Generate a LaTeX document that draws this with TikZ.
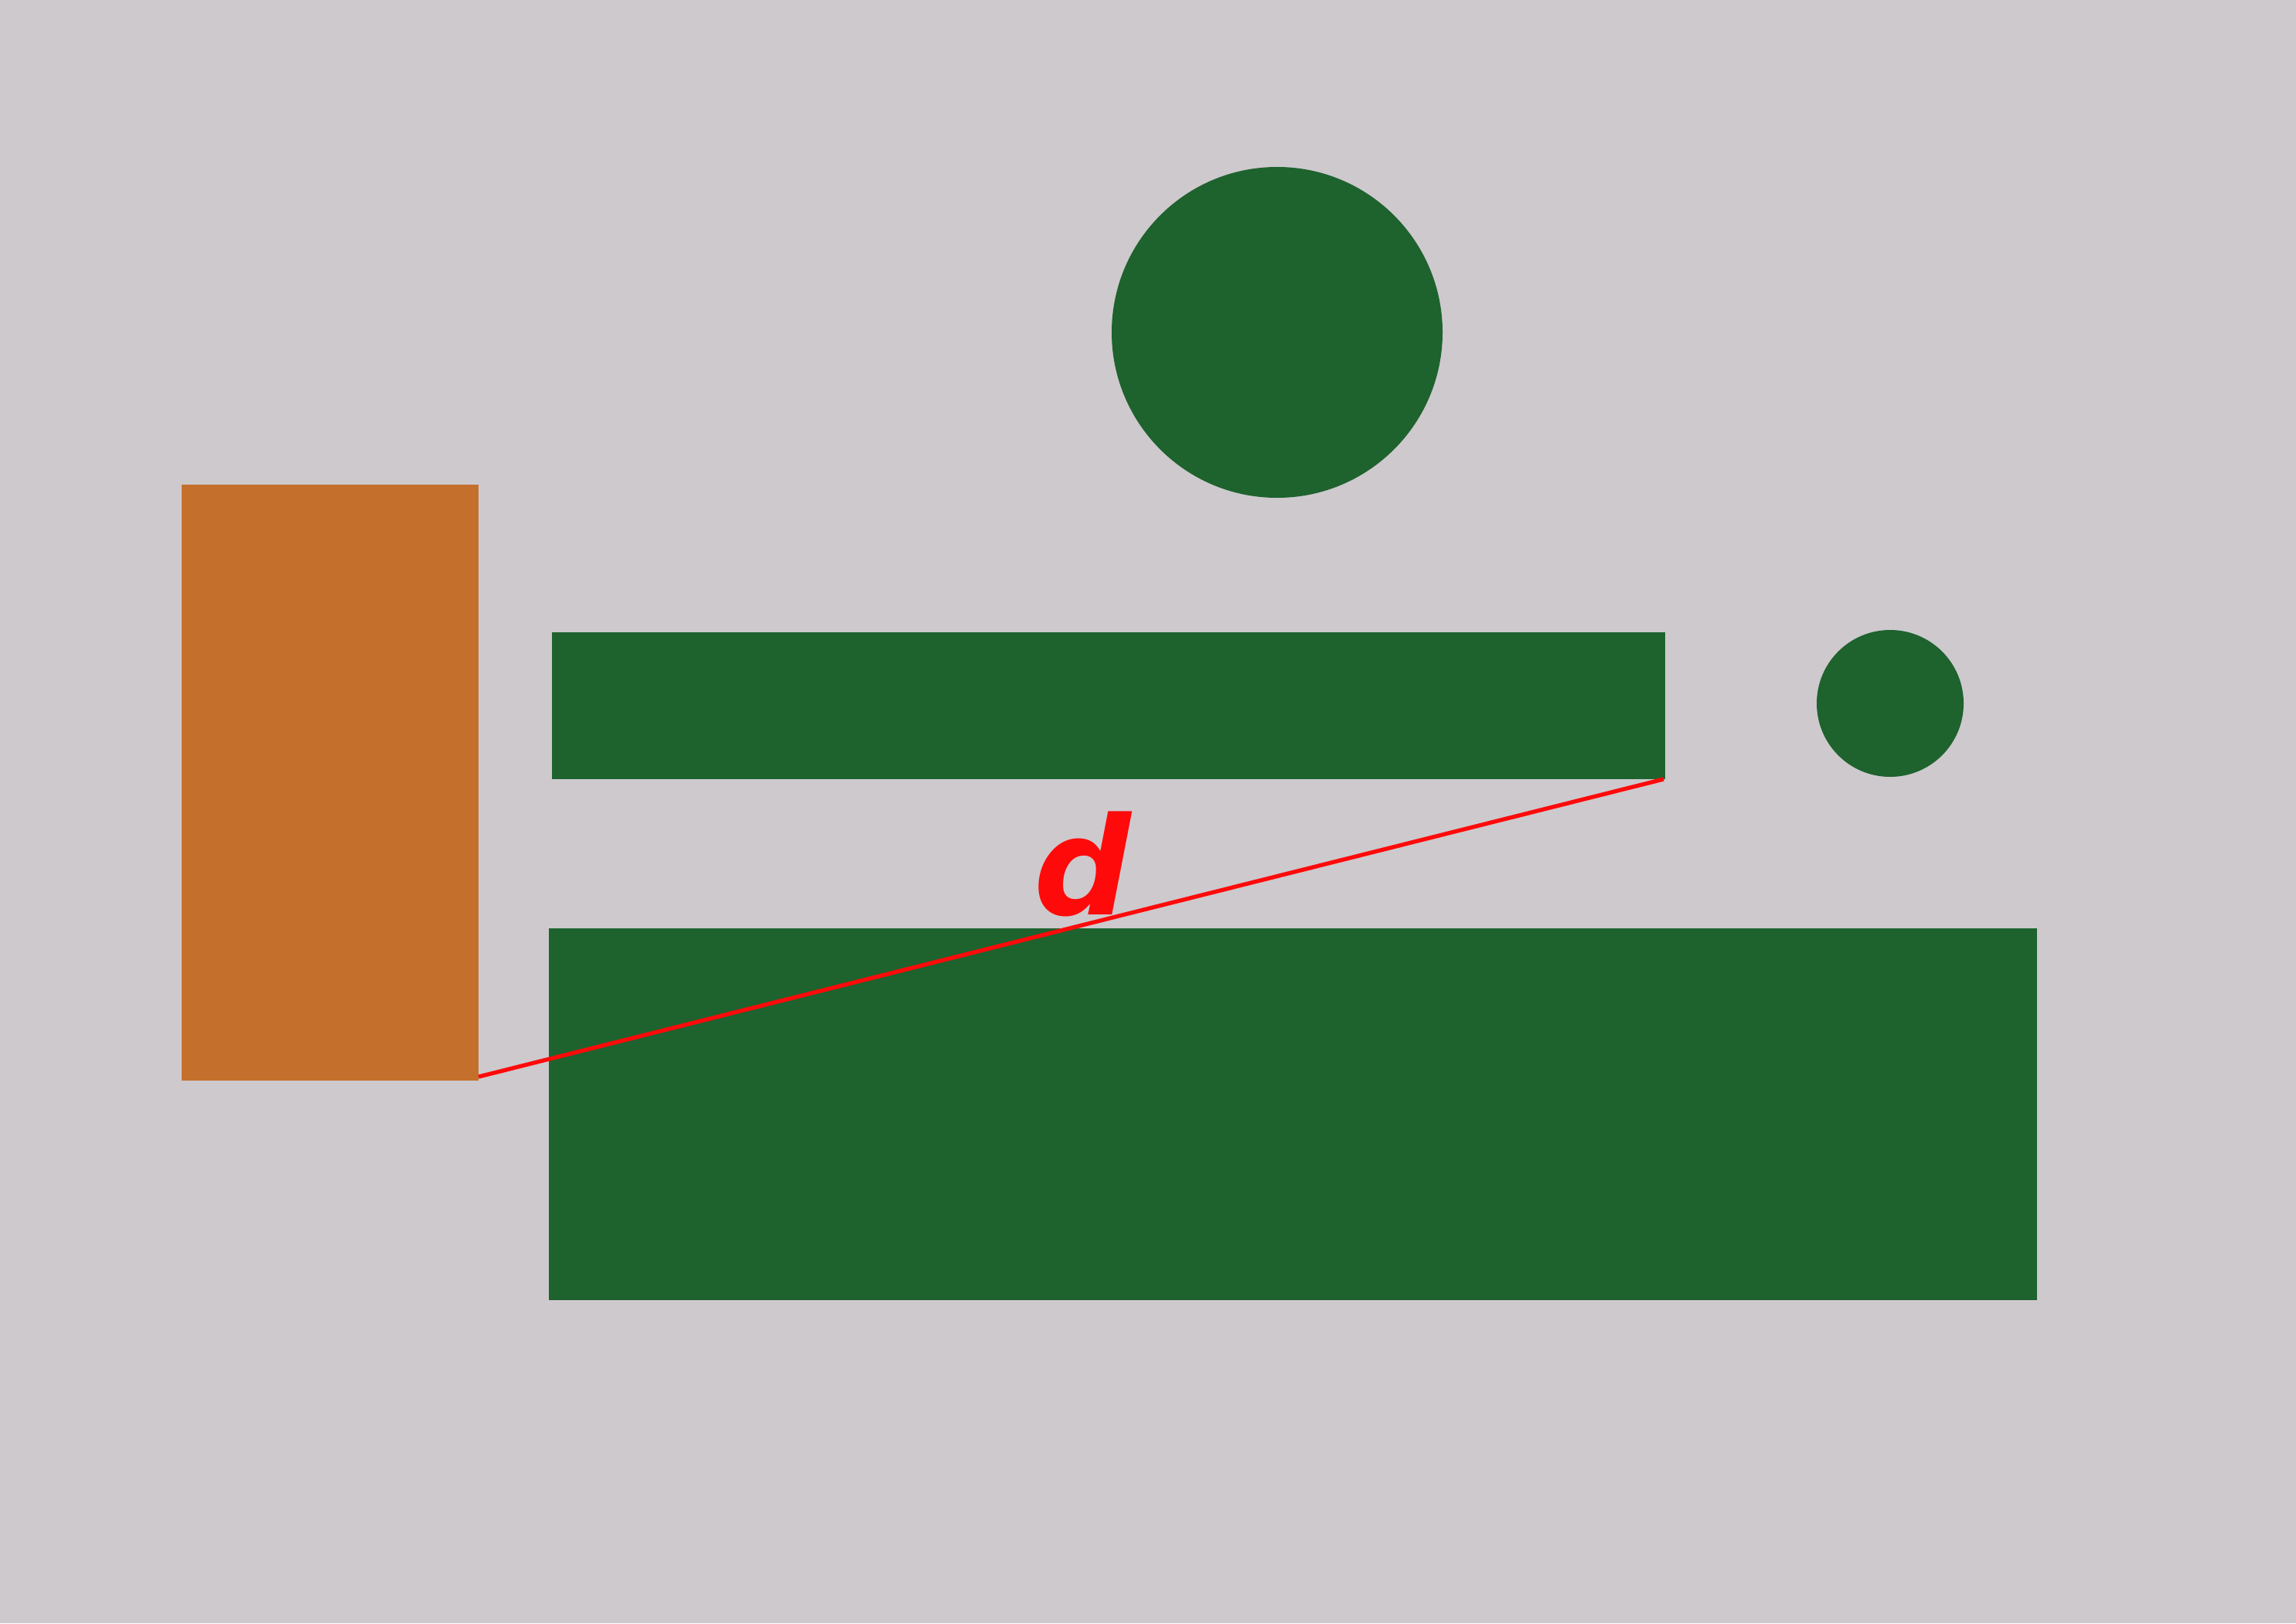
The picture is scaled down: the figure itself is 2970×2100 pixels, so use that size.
\documentclass[tikz,border=0pt]{standalone}
\usepackage{fontspec}
\setmainfont{DejaVu Sans}
\definecolor{bg}{RGB}{206,201,205}
\definecolor{shapegreen}{RGB}{30,98,46}
\definecolor{shapeorange}{RGB}{196,112,44}
\definecolor{linered}{RGB}{255,10,10}
\begin{document}
\begin{tikzpicture}[x=0.01cm,y=-0.01cm,
  greenshape/.style={fill=shapegreen,draw=none},
  orangeshape/.style={fill=shapeorange,draw=none},
  dline/.style={draw=linered,line width=1.5pt}]
\useasboundingbox (0,0) rectangle (2970,2100);
\fill[bg] (0,0) rectangle (2970,2100);
% orange rectangle
\fill[orangeshape] (235,627) rectangle (619,1398);
\coordinate (orangecorner) at (619,1393);
% big circle
\fill[greenshape] (1652,430) circle[radius=214];
% upper bar
\fill[greenshape] (714,818) rectangle (2154,1008);
\coordinate (barcorner) at (2152,1008);
% small circle
\fill[greenshape] (2445,910) circle[radius=95];
% lower bar
\fill[greenshape] (710,1201) rectangle (2635,1682);
% distance line
\draw[dline] (orangecorner) -- (barcorner);
\node[text=linered,font=\fontsize{50}{60}\selectfont\bfseries\itshape] (dlabel) at (1400,1118) {d};
\end{tikzpicture}
\end{document}
